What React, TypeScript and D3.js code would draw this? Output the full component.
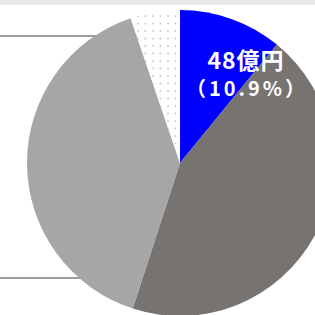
import React, { useEffect, useRef } from "react";
import * as d3 from "d3";

// values in 億円 (blue one labelled 48億円 / 10.9%)
const categories = ["blue", "dark", "light", "dots"];
const values = [48, 194, 175, 23];
const colors = ["#0000ff", "#767371", "#a6a6a6", "url(#dots)"];
const labelTop = "48億円";
const labelBottom = "（10.9%）";

const W = 315;
const H = 315;

export default function App() {
  const ref = useRef<SVGSVGElement>(null);

  useEffect(() => {
    const svg = d3.select(ref.current);
    svg.selectAll("*").remove();

    const defs = svg.append("defs");
    const pat = defs.append("pattern")
      .attr("id", "dots")
      .attr("patternUnits", "userSpaceOnUse")
      .attr("width", 7.5)
      .attr("height", 7.5);
    pat.append("rect").attr("width", 7.5).attr("height", 7.5).attr("fill", "#fff");
    pat.append("circle").attr("cx", 3).attr("cy", 3).attr("r", 0.9).attr("fill", "#bdbdbd");

    svg.append("rect").attr("x", 0).attr("y", 0).attr("width", W).attr("height", H).attr("fill", "#fff");
    svg.append("rect").attr("x", 0).attr("y", 0).attr("width", W).attr("height", 5).attr("fill", "#e8e8e8");

    // frame lines on the left, behind the pie
    svg.append("line").attr("x1", -5).attr("x2", 180).attr("y1", 36).attr("y2", 36)
      .attr("stroke", "#9c9c9c").attr("stroke-width", 2);
    svg.append("line").attr("x1", -5).attr("x2", 180).attr("y1", 278).attr("y2", 278)
      .attr("stroke", "#9c9c9c").attr("stroke-width", 2);

    const cx = 180, cy = 163, r = 153;
    const pie = d3.pie<number>().sort(null).value(d => d);
    const arc = d3.arc<d3.PieArcDatum<number>>().innerRadius(0).outerRadius(r);

    const g = svg.append("g").attr("transform", `translate(${cx},${cy})`);
    g.selectAll("path")
      .data(pie(values))
      .join("path")
      .attr("d", arc)
      .attr("fill", (d, i) => colors[i])
      .attr("data-name", (d, i) => categories[i]);

    const txt = svg.append("g")
      .attr("font-family", "'Noto Sans CJK JP', 'Noto Sans', sans-serif")
      .attr("font-weight", "bold")
      .attr("fill", "#fff")
      .attr("text-anchor", "middle");
    txt.append("text").attr("x", 246).attr("y", 69).attr("font-size", 23)
      .attr("letter-spacing", 1).text(labelTop);
    txt.append("text").attr("x", 247).attr("y", 96).attr("font-size", 20)
      .attr("letter-spacing", 3).text(labelBottom);
  }, []);

  return (
    <svg ref={ref} width={W} height={H}
      style={{ position: "absolute", left: 0, top: 0, display: "block" }} />
  );
}
